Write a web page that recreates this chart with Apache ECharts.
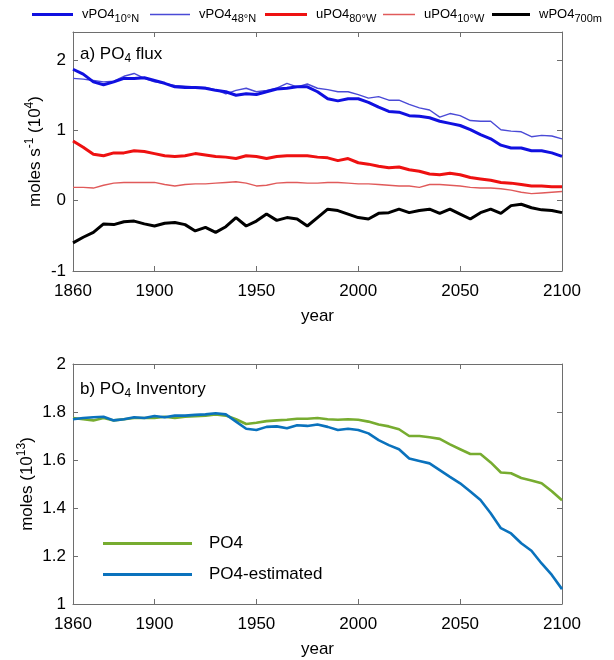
<!DOCTYPE html>
<html>
<head>
<meta charset="utf-8">
<script src="https://cdn.jsdelivr.net/npm/echarts@6/dist/echarts.min.js"></script>
<style>
  html, body { margin: 0; padding: 0; background: #fff; }
  #chart { width: 614px; height: 660px; }
</style>
</head>
<body>
<div id="chart"></div>
<script>
// years, sampled every 5 years
const years = [1860,1865,1870,1875,1880,1885,1890,1895,1900,
  1905,1910,1915,1920,1925,1930,1935,1940,1945,1950,
  1955,1960,1965,1970,1975,1980,1985,1990,1995,2000,
  2005,2010,2015,2020,2025,2030,2035,2040,2045,2050,
  2055,2060,2065,2070,2075,2080,2085,2090,2095,2100]

// a) PO4 flux, moles s-1 (10^4)
const vPO4_10N = [1.87,1.80,1.69,1.65,1.69,1.74,1.74,1.75,1.71,
  1.67,1.62,1.61,1.61,1.60,1.57,1.55,1.50,1.52,1.51,
  1.55,1.59,1.60,1.62,1.62,1.55,1.45,1.42,1.45,1.45,
  1.40,1.33,1.27,1.26,1.21,1.20,1.18,1.13,1.10,1.07,
  1.01,0.94,0.88,0.79,0.75,0.75,0.71,0.71,0.68,0.63]
const vPO4_48N = [1.74,1.73,1.71,1.69,1.70,1.77,1.81,1.74,1.69,
  1.67,1.64,1.63,1.62,1.61,1.58,1.52,1.57,1.60,1.55,
  1.57,1.60,1.67,1.62,1.66,1.60,1.58,1.55,1.55,1.51,
  1.46,1.48,1.43,1.43,1.37,1.32,1.29,1.19,1.24,1.21,
  1.14,1.13,1.13,1.01,0.99,0.98,0.91,0.93,0.92,0.88]
const uPO4_80W = [0.85,0.76,0.66,0.64,0.68,0.68,0.71,0.70,0.67,
  0.64,0.63,0.64,0.67,0.65,0.63,0.62,0.60,0.64,0.63,
  0.60,0.63,0.64,0.64,0.64,0.62,0.61,0.57,0.60,0.54,
  0.52,0.49,0.47,0.48,0.44,0.42,0.38,0.37,0.39,0.37,
  0.33,0.31,0.29,0.26,0.25,0.23,0.21,0.21,0.20,0.20]
const uPO4_10W = [0.19,0.19,0.18,0.22,0.25,0.26,0.26,0.26,0.26,
  0.23,0.21,0.23,0.24,0.24,0.25,0.26,0.27,0.25,0.21,
  0.22,0.25,0.26,0.26,0.25,0.25,0.26,0.26,0.25,0.24,
  0.24,0.23,0.22,0.21,0.21,0.19,0.23,0.23,0.22,0.21,
  0.19,0.18,0.18,0.17,0.15,0.12,0.10,0.11,0.12,0.13]
const wPO4_700m = [-0.60,-0.52,-0.45,-0.33,-0.34,-0.30,-0.29,-0.33,-0.36,
  -0.32,-0.31,-0.34,-0.43,-0.38,-0.45,-0.37,-0.24,-0.36,-0.29,
  -0.19,-0.28,-0.24,-0.26,-0.36,-0.24,-0.12,-0.14,-0.19,-0.24,
  -0.26,-0.18,-0.17,-0.12,-0.17,-0.14,-0.12,-0.18,-0.12,-0.19,
  -0.26,-0.17,-0.12,-0.18,-0.07,-0.05,-0.10,-0.13,-0.14,-0.17]

// b) PO4 inventory, moles (10^13)
const po4 = [1.775,1.770,1.765,1.775,1.765,1.770,1.775,1.775,1.775,
  1.780,1.775,1.780,1.782,1.785,1.790,1.785,1.770,1.750,1.755,
  1.762,1.765,1.768,1.772,1.772,1.775,1.770,1.768,1.770,1.768,
  1.760,1.748,1.740,1.728,1.700,1.700,1.695,1.688,1.665,1.645,
  1.625,1.625,1.590,1.548,1.545,1.525,1.515,1.503,1.470,1.432]
const po4Est = [1.770,1.775,1.778,1.780,1.765,1.770,1.778,1.775,1.783,
  1.778,1.785,1.785,1.788,1.790,1.795,1.790,1.760,1.730,1.725,
  1.738,1.740,1.732,1.745,1.742,1.748,1.738,1.725,1.730,1.725,
  1.711,1.683,1.662,1.645,1.606,1.596,1.586,1.558,1.530,1.503,
  1.469,1.433,1.378,1.316,1.294,1.253,1.222,1.169,1.121,1.062]

// tick labels
const yearLabels = [1860, 1900, 1950, 2000, 2050, 2100]
const yearTicks = [1900, 1950, 2000, 2050]
const fluxTicks = [-1, 0, 1, 2]
const invTicks = [1, 1.2, 1.4, 1.6, 1.8, 2]

const font = 'Liberation Sans, Arial, sans-serif'
const axisColor = '#6e6e6e'
const pairs = arr => years.map((y, i) => [y, arr[i]])

// legend labels with subscripts
const legendText = {
  'vPO4 10N': '{n|vPO4}{s|10°N}',
  'vPO4 48N': '{n|vPO4}{s|48°N}',
  'uPO4 80W': '{n|uPO4}{s|80°W}',
  'uPO4 10W': '{n|uPO4}{s|10°W}',
  'wPO4 700m': '{n|wPO4}{s|700m}',
}
const legendRich = {
  n: { fontSize: 13, fontFamily: font, color: '#000', padding: [0, 0, 0, 4] },
  s: { fontSize: 11, fontFamily: font, color: '#000', padding: [9, 0, 0, 0] },
}

function topLegend(name, left, w, h) {
  return {
    data: [name], left: left, top: 8, padding: 0,
    icon: 'rect', itemWidth: w, itemHeight: h,
    formatter: n => legendText[n],
    textStyle: { rich: legendRich },
  }
}

// main x axis (bottom) and mirrored one on top
function xAxes(gi) {
  return [
    {
      type: 'value', gridIndex: gi, min: 1860, max: 2100, position: 'bottom',
      axisLine: { onZero: false, lineStyle: { color: axisColor } },
      axisTick: { inside: true, length: 5, customValues: yearTicks, lineStyle: { color: axisColor } },
      axisLabel: { customValues: yearLabels, formatter: v => String(v), color: '#000', fontSize: 17, fontFamily: font, margin: 12 },
      splitLine: { show: false },
      name: 'year', nameLocation: 'middle', nameGap: 37, nameMoveOverlap: false,
      nameTextStyle: { color: '#000', fontSize: 17, fontFamily: font },
    },
    {
      type: 'value', gridIndex: gi, min: 1860, max: 2100, position: 'top',
      axisLine: { onZero: false, lineStyle: { color: axisColor } },
      axisTick: { inside: true, length: 5, customValues: yearTicks, lineStyle: { color: axisColor } },
      axisLabel: { show: false },
      splitLine: { show: false },
    },
  ]
}

function yAxes(gi, min, max, ticks, name, nameGap, rich) {
  return [
    {
      type: 'value', gridIndex: gi, min: min, max: max, position: 'left',
      axisLine: { show: true, onZero: false, lineStyle: { color: axisColor } },
      axisTick: { show: true, inside: true, length: 5, customValues: ticks, lineStyle: { color: axisColor } },
      axisLabel: { customValues: ticks, formatter: v => String(v), color: '#000', fontSize: 17, fontFamily: font, margin: 7 },
      splitLine: { show: false },
      name: name, nameLocation: 'middle', nameRotate: 90, nameGap: nameGap, nameMoveOverlap: false,
      nameTextStyle: { rich: rich },
    },
    {
      type: 'value', gridIndex: gi, min: min, max: max, position: 'right',
      axisLine: { show: true, onZero: false, lineStyle: { color: axisColor } },
      axisTick: { show: true, inside: true, length: 5, customValues: ticks, lineStyle: { color: axisColor } },
      axisLabel: { show: false },
      splitLine: { show: false },
    },
  ]
}

const nameRich = {
  n: { fontSize: 17, fontFamily: font, color: '#000' },
  p: { fontSize: 12, fontFamily: font, color: '#000', padding: [0, 0, 10, 0] },
}
const titleRich = {
  n: { fontSize: 17, fontFamily: font, fontWeight: 'normal', color: '#000' },
  s: { fontSize: 12, fontFamily: font, fontWeight: 'normal', color: '#000', padding: [10, 0, 0, 0] },
}

function line(name, data, color, width, xi, yi) {
  return {
    type: 'line', name: name, data: pairs(data), xAxisIndex: xi, yAxisIndex: yi,
    showSymbol: false, symbol: 'none', animation: false,
    lineStyle: { color: color, width: width }, itemStyle: { color: color },
  }
}

const myChart = echarts.init(document.getElementById('chart'))
myChart.setOption({
  animation: false,
  title: [
    { text: '{n|a) PO}{s|4}{n| flux}', left: 80, top: 43, padding: 0, textStyle: { fontWeight: 'normal', rich: titleRich } },
    { text: '{n|b) PO}{s|4}{n| Inventory}', left: 80, top: 378, padding: 0, textStyle: { fontWeight: 'normal', rich: titleRich } },
  ],
  legend: [
    topLegend('vPO4 10N', 32, 41, 3),
    topLegend('vPO4 48N', 150, 40, 1.5),
    topLegend('uPO4 80W', 265, 42, 3),
    topLegend('uPO4 10W', 383, 32, 1.5),
    topLegend('wPO4 700m', 492, 38, 3),
    {
      data: ['PO4', 'PO4-estimated'], orient: 'vertical', left: 103, top: 535, padding: 0,
      icon: 'rect', itemWidth: 89, itemHeight: 3, itemGap: 14,
      textStyle: { fontSize: 17, fontFamily: font, color: '#000', padding: [0, 0, 0, 12] },
    },
  ],
  grid: [
    { left: 73, top: 32, width: 489, height: 239 },
    { left: 73, top: 364, width: 489, height: 240 },
  ],
  xAxis: [...xAxes(0), ...xAxes(1)],
  yAxis: [
    ...yAxes(0, -1, 2.4, fluxTicks, '{n|moles s}{p|-1}{n| (10}{p|4}{n|)}', 27, nameRich),
    ...yAxes(1, 1, 2, invTicks, '{n|moles (10}{p|13}{n|)}', 35, nameRich),
  ],
  series: [
    line('uPO4 10W', uPO4_10W, '#e05a5a', 1.4, 0, 0),
    line('wPO4 700m', wPO4_700m, '#000000', 3, 0, 0),
    line('uPO4 80W', uPO4_80W, '#ee1111', 3, 0, 0),
    line('vPO4 48N', vPO4_48N, '#4a4ad6', 1.4, 0, 0),
    line('vPO4 10N', vPO4_10N, '#1010e0', 3, 0, 0),
    line('PO4', po4, '#77ac30', 2.6, 2, 2),
    line('PO4-estimated', po4Est, '#0a72bd', 2.6, 2, 2),
  ],
})
</script>
</body>
</html>
